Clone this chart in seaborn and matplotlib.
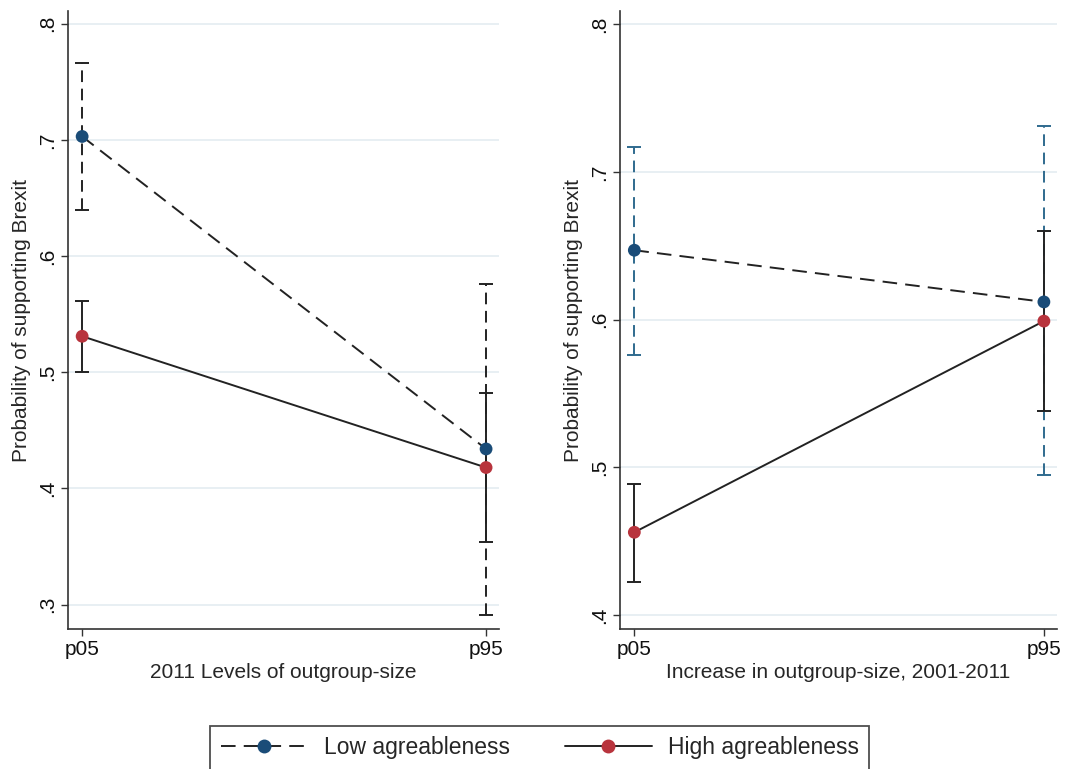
import matplotlib
matplotlib.use("Agg")
import matplotlib.pyplot as plt
from matplotlib.lines import Line2D
import seaborn as sns
import pandas as pd

# ---- data ----
positions = ["p05", "p95"]
groups = ["Low agreableness", "High agreableness"]

# Left panel: 2011 levels of outgroup-size
left_low = [0.703, 0.434]
left_low_lo = [0.640, 0.291]
left_low_hi = [0.766, 0.576]
left_high = [0.531, 0.418]
left_high_lo = [0.500, 0.354]
left_high_hi = [0.561, 0.482]

# Right panel: increase in outgroup-size 2001-2011
right_low = [0.647, 0.612]
right_low_lo = [0.576, 0.495]
right_low_hi = [0.717, 0.731]
right_high = [0.456, 0.599]
right_high_lo = [0.422, 0.538]
right_high_hi = [0.489, 0.660]

left_yticks = [0.3, 0.4, 0.5, 0.6, 0.7, 0.8]
left_yticklabels = [".3", ".4", ".5", ".6", ".7", ".8"]
right_yticks = [0.4, 0.5, 0.6, 0.7, 0.8]
right_yticklabels = [".4", ".5", ".6", ".7", ".8"]

xlabels = ["2011 Levels of outgroup-size", "Increase in outgroup-size, 2001-2011"]
ylabel = "Probability of supporting Brexit"

NAVY = "#1a4c78"
RED = "#b8343d"
CI_BLUE = "#2f6a8e"
GRID = "#e6eef2"
SPINE = "#333333"
LINE_DASH = (7.5, 4.2)
CI_DASH = (6, 3.4)

sns.set_theme(style="white")
plt.rcParams["font.family"] = ["Liberation Sans", "DejaVu Sans"]

fig = plt.figure(figsize=(10.73, 7.69), dpi=100)
axL = fig.add_axes([68 / 1073, 140 / 769, 431 / 1073, 618 / 769])
axR = fig.add_axes([620 / 1073, 140 / 769, 437 / 1073, 618 / 769])


def make_df(low, high):
    rows = []
    for i, p in enumerate(positions):
        rows.append({"x": i, "pos": p, "group": groups[0], "prob": low[i]})
        rows.append({"x": i, "pos": p, "group": groups[1], "prob": high[i]})
    return pd.DataFrame(rows)


def draw(ax, low, low_lo, low_hi, high, high_lo, high_hi, low_ci_color,
         ylim, yticks, yticklabels, xlabel):
    df = make_df(low, high)
    for t in yticks:
        ax.axhline(t, color=GRID, lw=1.3, zorder=0)
    xs = [0, 1]
    eb = ax.errorbar(xs, low, yerr=[[l - a for l, a in zip(low, low_lo)],
                                     [b - l for l, b in zip(low, low_hi)]],
                     fmt="none", ecolor=low_ci_color, elinewidth=1.4,
                     capsize=5, capthick=1.4, zorder=2)
    eb[2][0].set_linestyle((0, CI_DASH))
    ax.errorbar(xs, high, yerr=[[l - a for l, a in zip(high, high_lo)],
                                [b - l for l, b in zip(high, high_hi)]],
                fmt="none", ecolor="#222222", elinewidth=1.4,
                capsize=5, capthick=1.4, zorder=3)
    sns.lineplot(data=df, x="x", y="prob", style="group",
                 style_order=groups,
                 dashes={groups[0]: LINE_DASH, groups[1]: ""},
                 color="#222222", lw=1.4, legend=False, ax=ax, zorder=4)
    sns.scatterplot(data=df, x="x", y="prob", hue="group", hue_order=groups,
                    palette=[NAVY, RED], s=85, linewidth=0, legend=False,
                    ax=ax, zorder=5)
    ax.set_xlim(-0.035, 1.032)
    ax.set_ylim(*ylim)
    ax.set_xticks([0, 1])
    ax.set_xticklabels(positions, fontsize=15)
    ax.set_yticks(yticks)
    ax.set_yticklabels(yticklabels, fontsize=15, rotation=90, va="center")
    ax.set_xlabel(xlabel, fontsize=15, labelpad=3)
    ax.set_ylabel(ylabel, fontsize=15, labelpad=5)
    for s in ["top", "right"]:
        ax.spines[s].set_visible(False)
    for s in ["left", "bottom"]:
        ax.spines[s].set_color(SPINE)
        ax.spines[s].set_linewidth(1.2)
    ax.tick_params(axis="both", which="major", direction="out", length=5,
                   width=1.0, color=SPINE, left=True, bottom=True,
                   labelcolor="#111111", pad=3)
    ax.grid(False)


draw(axL, left_low, left_low_lo, left_low_hi, left_high, left_high_lo,
     left_high_hi, "#222222", (0.279, 0.811), left_yticks, left_yticklabels,
     xlabels[0])
draw(axR, right_low, right_low_lo, right_low_hi, right_high, right_high_lo,
     right_high_hi, CI_BLUE, (0.3905, 0.809), right_yticks, right_yticklabels,
     xlabels[1])

handles = [
    Line2D([], [], color="#222222", lw=1.4, dashes=LINE_DASH, marker="o",
           markersize=10, markerfacecolor=NAVY, markeredgewidth=0),
    Line2D([], [], color="#222222", lw=1.4, marker="o",
           markersize=10, markerfacecolor=RED, markeredgewidth=0),
]
leg = fig.legend(handles, groups, loc="upper center",
                 bbox_to_anchor=(0.503, 43 / 769), ncol=2, fontsize=16.5,
                 frameon=True, fancybox=False, edgecolor="#222222",
                 handlelength=3.8, handletextpad=0.7, columnspacing=2.4,
                 borderpad=0.45, borderaxespad=0)
leg.get_frame().set_linewidth(1.3)

fig.savefig("out.png", dpi=100)
